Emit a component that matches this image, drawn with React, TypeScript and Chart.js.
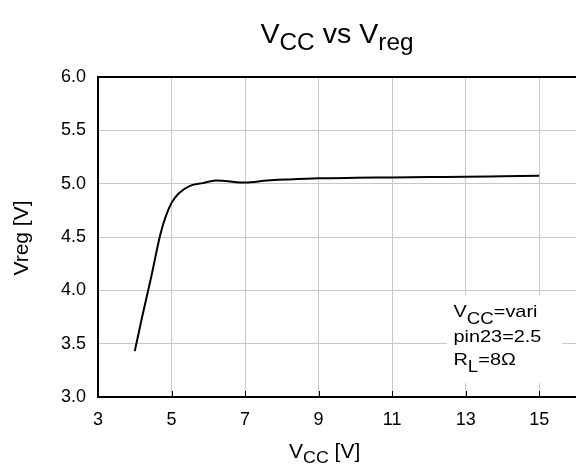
import { useEffect, useRef } from "react";
import { Chart, registerables } from "chart.js";

Chart.register(...registerables);

// ---- data ----
const vcc = [4.0, 4.2, 4.45, 4.7, 4.85, 5.0, 5.2, 5.5, 5.85, 6.2, 6.45, 7.0, 7.6, 8.2, 9, 10, 11, 12, 13, 14, 15];
const vreg = [3.43, 3.75, 4.13, 4.53, 4.7, 4.82, 4.91, 4.98, 5.005, 5.03, 5.025, 5.01, 5.03, 5.04, 5.05, 5.055, 5.058, 5.062, 5.065, 5.07, 5.075];
const xTicks = [3, 5, 7, 9, 11, 13, 15];
const yTicks = [3.0, 3.5, 4.0, 4.5, 5.0, 5.5, 6.0];

type Part = { t: string; sub?: boolean };
const titleParts: Part[] = [{ t: "V" }, { t: "CC", sub: true }, { t: " vs V" }, { t: "reg", sub: true }];
const xLabelParts: Part[] = [{ t: "V" }, { t: "CC", sub: true }, { t: " [V]" }];
const yLabelText = "Vreg [V]";
const noteLines: Part[][] = [
  [{ t: "V" }, { t: "CC", sub: true }, { t: "=vari" }],
  [{ t: "pin23=2.5" }],
  [{ t: "R" }, { t: "L", sub: true }, { t: "=8Ω" }],
];

const FONT = '"Liberation Sans", Arial, Helvetica, sans-serif';

function drawRich(
  ctx: CanvasRenderingContext2D,
  parts: Part[],
  x: number,
  y: number,
  size: number,
  subSize: number,
  subDy: number,
  stretch: number,
  align: "left" | "center",
  rotate = 0
) {
  ctx.save();
  ctx.translate(x, y);
  if (rotate) ctx.rotate(rotate);
  ctx.scale(stretch, 1);
  ctx.textBaseline = "alphabetic";
  ctx.textAlign = "left";
  ctx.fillStyle = "#000";
  const fontOf = (p: Part) => `${p.sub ? subSize : size}px ${FONT}`;
  let total = 0;
  for (const p of parts) {
    ctx.font = fontOf(p);
    total += ctx.measureText(p.t).width;
  }
  let cx = align === "center" ? -total / 2 : 0;
  for (const p of parts) {
    ctx.font = fontOf(p);
    ctx.fillText(p.t, cx, p.sub ? subDy : 0);
    cx += ctx.measureText(p.t).width;
  }
  ctx.restore();
}

const decorPlugin = {
  id: "decor",
  afterDraw(chart: any) {
    const ctx: CanvasRenderingContext2D = chart.ctx;
    const { left, right, top, bottom } = chart.chartArea;
    const xs = chart.scales.x;
    ctx.save();
    // top border
    ctx.strokeStyle = "#000";
    ctx.lineWidth = 2;
    ctx.beginPath();
    ctx.moveTo(left - 1, top);
    ctx.lineTo(right + 2, top);
    ctx.stroke();
    // inward tick marks on x axis
    ctx.lineWidth = 1;
    for (const v of xTicks.slice(1)) {
      const px = Math.round(xs.getPixelForValue(v)) + 0.5;
      ctx.beginPath();
      ctx.moveTo(px, bottom);
      ctx.lineTo(px, bottom - 6);
      ctx.stroke();
    }
    // annotation box
    ctx.fillStyle = "#fff";
    ctx.fillRect(447, 295, 115, 88);
    ctx.restore();

    const baselines = [317, 342, 365];
    noteLines.forEach((ln, i) => drawRich(ctx, ln, 453.5, baselines[i], 17, 16, 6.5, 1.17, "left"));

    // title (centred over the plot area)
    drawRich(ctx, titleParts, (left + right) / 2, 43, 27, 23, 7, 1.06, "center");
    // x label
    drawRich(ctx, xLabelParts, 289, 458, 20, 17, 4.5, 1.05, "left");
    // y label
    drawRich(ctx, [{ t: yLabelText }], 27.7, (top + bottom) / 2 + 1, 20, 20, 0, 1.05, "center", -Math.PI / 2);
  },
};

export default function App() {
  const ref = useRef<HTMLCanvasElement | null>(null);
  useEffect(() => {
    document.body.style.margin = "0";
    const canvas = ref.current;
    if (!canvas) return;
    Chart.defaults.font.family = FONT;
    const chart = new Chart(canvas, {
      type: "line",
      data: {
        datasets: [
          {
            data: vcc.map((x, i) => ({ x, y: vreg[i] })),
            borderColor: "#000",
            borderWidth: 2,
            pointRadius: 0,
            fill: false,
            cubicInterpolationMode: "monotone",
          },
        ],
      },
      options: {
        animation: false,
        responsive: false,
        events: [],
        layout: { padding: { left: 0, top: 77, right: -2, bottom: 0 } },
        plugins: { legend: { display: false }, title: { display: false }, tooltip: { enabled: false } },
        scales: {
          x: {
            type: "linear",
            min: 3,
            max: 16,
            afterBuildTicks: (s: any) => {
              s.ticks = xTicks.map((v) => ({ value: v }));
            },
            afterFit: (s: any) => {
              s.height = 69;
            },
            grid: { color: "#c8c8c8", lineWidth: 1, drawTicks: false },
            border: { color: "#000", width: 2 },
            ticks: {
              padding: 12,
              color: "#000",
              font: { size: 18, family: FONT },
              maxRotation: 0,
              autoSkip: false,
              callback: (v: any) => String(v),
            },
          },
          y: {
            type: "linear",
            min: 3,
            max: 6,
            afterBuildTicks: (s: any) => {
              s.ticks = yTicks.map((v) => ({ value: v }));
            },
            afterFit: (s: any) => {
              s.width = 98;
            },
            grid: { color: "#c8c8c8", lineWidth: 1, drawTicks: false },
            border: { color: "#000", width: 2 },
            ticks: {
              padding: 12,
              color: "#000",
              font: { size: 18, family: FONT },
              autoSkip: false,
              callback: (v: any) => Number(v).toFixed(1),
            },
          },
        },
      } as any,
      plugins: [decorPlugin],
    });
    return () => chart.destroy();
  }, []);
  return <canvas ref={ref} width={576} height={466} style={{ display: "block" }} />;
}
